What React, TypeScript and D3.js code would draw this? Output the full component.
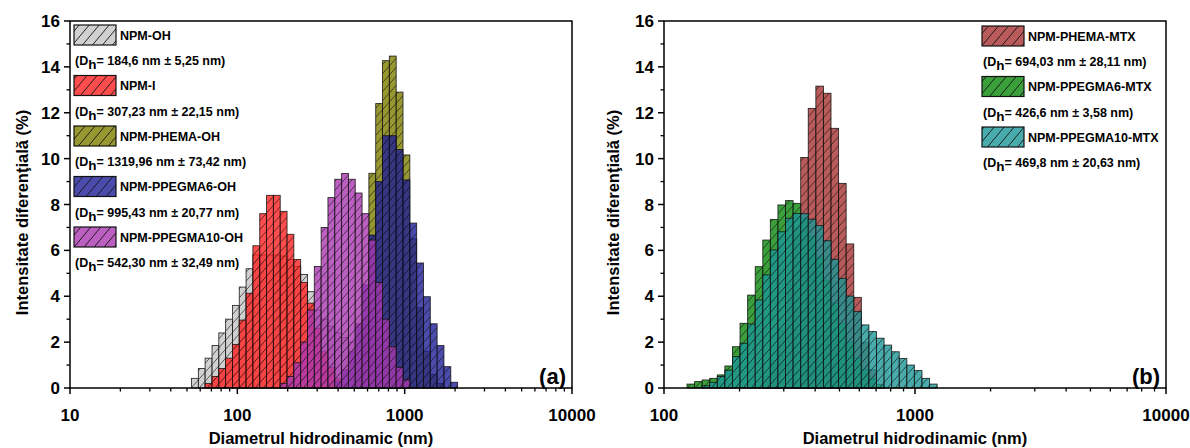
import React from 'react';
import * as d3 from 'd3';

// ---------- DATA ----------
// Left panel (a): lower bin edges (nm) of the size classes
const leftEdges = [53.2, 58.5, 64.2, 70.6, 77.5, 85.1, 93.5, 102.7, 112.8, 123.9, 136.1, 149.5, 164.2, 180.4, 198.2, 217.6, 239.0, 262.6, 288.4, 316.8, 348.0, 382.2, 419.9, 461.2, 506.6, 556.4, 611.2, 671.4, 737.5, 810.0, 889.8, 977.4, 1073.7, 1179.3, 1295.4, 1422.9, 1563.0, 1716.9, 1886.0, 2071.6];
const leftGray = [0.42, 0.85, 1.3, 1.85, 2.4, 3.0, 3.6, 4.4, 5.2, 5.8, 5.8, 5.8, 5.8, 5.75, 5.6, 5.3, 4.95, 4.2, 3.4, 3.0, 2.7, 2.4, 2.2, 2.0, 1.8, 1.5, 1.2, 0.9, 0.55, 0.25, 0, 0, 0, 0, 0, 0, 0, 0, 0];
const leftRed = [0, 0, 0.2, 0.5, 0.85, 1.3, 1.9, 2.96, 4.13, 6.2, 7.6, 8.4, 8.4, 7.7, 6.7, 5.6, 4.6, 3.7, 2.6, 1.6, 0.9, 0.4, 0.15, 0, 0, 0, 0, 0, 0, 0, 0, 0, 0, 0, 0, 0, 0, 0, 0];
const leftOlive = [0, 0, 0, 0, 0, 0, 0, 0, 0, 0, 0, 0, 0, 0, 0, 0, 0, 0, 0, 0, 0, 0, 0, 0, 0.6, 3.0, 9.36, 12.4, 14.27, 14.47, 12.9, 10.16, 6.5, 3.5, 1.6, 0.6, 0.2, 0, 0];
const leftBlue = [0, 0, 0, 0, 0, 0, 0, 0, 0, 0, 0, 0, 0, 0, 0, 0, 0, 0, 0, 0, 0, 0.3, 0.8, 1.6, 2.8, 4.5, 6.67, 9.0, 11.0, 11.0, 10.4, 9.07, 7.19, 5.45, 3.98, 2.8, 1.85, 0.93, 0.25];
const leftPurple = [0, 0, 0, 0, 0, 0, 0, 0, 0, 0, 0, 0, 0, 0.2, 0.5, 1.1, 2.0, 3.4, 5.3, 7.0, 8.3, 9.1, 9.35, 9.1, 8.5, 7.6, 6.45, 4.6, 3.0, 1.8, 0.9, 0.35, 0, 0, 0, 0, 0, 0, 0];
const leftNames = ['NPM-OH', 'NPM-I', 'NPM-PHEMA-OH', 'NPM-PPEGMA6-OH', 'NPM-PPEGMA10-OH'];
const leftDh = ['184,6 nm ± 5,25 nm', '307,23 nm ± 22,15 nm', '1319,96 nm ± 73,42 nm', '995,43 nm ± 20,77 nm', '542,30 nm ± 32,49 nm'];
const leftColors = ['#c4c4c4', '#ff2020', '#7e7e00', '#1e1e96', '#aa38b0'];
const leftXTicks = [10, 100, 1000, 10000];

// Right panel (b)
const rightEdges = [123.5, 132.4, 141.9, 152.1, 163.1, 174.8, 187.4, 200.9, 215.4, 230.9, 247.5, 265.3, 284.4, 304.9, 326.8, 350.4, 375.6, 402.7, 431.7, 462.8, 496.1, 531.8, 570.2, 611.2, 655.2, 702.4, 753.0, 807.2, 865.4, 927.7, 994.5, 1066.2, 1142.9, 1225.3];
const rightRed = [0, 0, 0, 0, 0, 0, 0, 0, 0, 0, 0.5, 1.2, 2.5, 4.5, 7.0, 10.05, 12.19, 13.16, 12.85, 11.32, 8.92, 6.28, 3.95, 2.0, 0.8, 0, 0, 0, 0, 0, 0, 0, 0];
const rightGreen = [0.17, 0.28, 0.35, 0.42, 0.57, 0.96, 1.8, 2.82, 4.05, 5.29, 6.45, 7.35, 7.98, 8.17, 8.05, 7.4, 6.6, 5.7, 4.7, 3.7, 2.8, 2.0, 1.3, 0.8, 0.4, 0.15, 0, 0, 0, 0, 0, 0, 0];
const rightCyan = [0, 0, 0.1, 0.25, 0.5, 0.78, 1.37, 1.95, 2.79, 3.84, 4.93, 6.02, 6.81, 7.4, 7.61, 7.6, 7.36, 7.08, 6.42, 5.61, 4.78, 4.01, 3.33, 2.75, 2.46, 2.17, 1.87, 1.58, 1.29, 1.0, 0.76, 0.42, 0.17];
const rightNames = ['NPM-PHEMA-MTX', 'NPM-PPEGMA6-MTX', 'NPM-PPEGMA10-MTX'];
const rightDh = ['694,03 nm ± 28,11 nm', ' 426,6 nm ± 3,58 nm', '469,8 nm ± 20,63 nm'];
const rightColors = ['#a83232', '#0a870a', '#1c9696'];
const rightXTicks = [100, 1000, 10000];

const yTicks = [0, 2, 4, 6, 8, 10, 12, 14, 16];
const yMinorTicks = [1, 3, 5, 7, 9, 11, 13, 15];

// ---------- LAYOUT ----------
const W = 1190;
const H = 448;
const TOP = 21;
const BOTTOM = 388;
const FONT = "'Liberation Sans', Arial, Helvetica, sans-serif";

type PanelProps = {
  left: number;
  right: number;
  domain: [number, number];
  xTicks: number[];
  edges: number[];
  series: number[][];
  colors: string[];
  names: string[];
  dh: string[];
  legendX: number;
  legendY0: number;
  legendStep: number;
  tag: string;
  yTitleX: number;
};

function Panel(p: PanelProps) {
  const x = d3.scaleLog().domain(p.domain).range([p.left, p.right]);
  const y = d3.scaleLinear().domain([0, 16]).range([BOTTOM, TOP]);
  const minor: number[] = [];
  for (let d = p.domain[0]; d < p.domain[1]; d *= 10) {
    for (let k = 2; k < 10; k++) minor.push(d * k);
  }
  const cx = (p.left + p.right) / 2;
  return (
    <g>
      {/* bars */}
      {p.series.map((vals, si) => (
        <g key={si}>
          {vals.map((v, i) => {
            if (!(v > 0)) return null;
            const x0 = x(p.edges[i]);
            const x1 = x(p.edges[i + 1]);
            const yt = y(v);
            const h = y(0) - yt;
            return (
              <g key={i}>
                <rect x={x0} y={yt} width={x1 - x0} height={h} fill={p.colors[si]} fillOpacity={0.8} />
                <rect x={x0} y={yt} width={x1 - x0} height={h} fill="url(#hatch)" stroke="#111" strokeWidth={0.9} strokeOpacity={0.85} />
              </g>
            );
          })}
        </g>
      ))}
      {/* frame */}
      <rect x={p.left} y={TOP} width={p.right - p.left} height={BOTTOM - TOP} fill="none" stroke="#000" strokeWidth={1.5} />
      {/* y ticks */}
      {yTicks.map((t) => (
        <g key={'y' + t}>
          <line x1={p.left - 6} x2={p.left} y1={y(t)} y2={y(t)} stroke="#000" strokeWidth={1.5} />
          <text x={p.left - 10} y={y(t)} dy="0.36em" textAnchor="end" fontFamily={FONT} fontWeight="bold" fontSize={17}>{t}</text>
        </g>
      ))}
      {yMinorTicks.map((t) => (
        <line key={'ym' + t} x1={p.left - 3.5} x2={p.left} y1={y(t)} y2={y(t)} stroke="#000" strokeWidth={1.3} />
      ))}
      {/* x ticks */}
      {p.xTicks.map((t) => (
        <g key={'x' + t}>
          <line x1={x(t)} x2={x(t)} y1={BOTTOM} y2={BOTTOM + 6} stroke="#000" strokeWidth={1.5} />
          <text x={x(t)} y={421} textAnchor="middle" fontFamily={FONT} fontWeight="bold" fontSize={17}>{t}</text>
        </g>
      ))}
      {minor.map((t, i) => (
        <line key={'xm' + i} x1={x(t)} x2={x(t)} y1={BOTTOM} y2={BOTTOM + 3.5} stroke="#000" strokeWidth={1.3} />
      ))}
      {/* axis titles */}
      <text x={cx} y={444} textAnchor="middle" fontFamily={FONT} fontWeight="bold" fontSize={16.5}>Diametrul hidrodinamic (nm)</text>
      <text transform={`translate(${p.yTitleX},${(TOP + BOTTOM) / 2 + 8}) rotate(-90)`} dy="0.35em" textAnchor="middle" fontFamily={FONT} fontWeight="bold" fontSize={16.5}>Intensitate diferenţială (%)</text>
      {/* panel tag */}
      <text x={p.right - 6} y={384} textAnchor="end" fontFamily={FONT} fontWeight="bold" fontSize={22}>{p.tag}</text>
      {/* legend */}
      {p.names.map((n, k) => {
        const ly = p.legendY0 + k * p.legendStep;
        return (
          <g key={'lg' + k}>
            <rect x={p.legendX} y={ly} width={42} height={20} fill={p.colors[k]} fillOpacity={0.8} />
            <rect x={p.legendX} y={ly} width={42} height={20} fill="url(#hatchL)" stroke="#111" strokeWidth={1.2} />
            <text x={p.legendX + 46} y={ly + 14.5} fontFamily={FONT} fontWeight="bold" fontSize={12.5}>{n}</text>
            <text x={p.legendX + 1} y={ly + 40} fontFamily={FONT} fontWeight="bold" fontSize={12.5}>
              (D<tspan dy={4} fontSize={13.5}>h</tspan><tspan dy={-4}>= {p.dh[k]})</tspan>
            </text>
          </g>
        );
      })}
    </g>
  );
}

export default function App() {
  return (
    <svg width={W} height={H} style={{ position: 'absolute', left: 0, top: 0, background: '#fff' }}>
      <defs>
        <pattern id="hatch" patternUnits="userSpaceOnUse" width={8} height={9}>
          <path d="M0,9 L8,0 M-1,1 L1,-1 M7,10 L9,8" stroke="#111" strokeWidth={0.75} strokeOpacity={0.85} />
        </pattern>
        <pattern id="hatchL" patternUnits="userSpaceOnUse" width={10} height={12}>
          <path d="M0,12 L10,0 M-1,1 L1,-1 M9,13 L11,11" stroke="#111" strokeWidth={0.9} />
        </pattern>
      </defs>
      <rect x={0} y={0} width={W} height={H} fill="#fff" />
      <Panel
        left={70}
        right={572}
        domain={[10, 10000]}
        xTicks={leftXTicks}
        edges={leftEdges}
        series={[leftGray, leftRed, leftOlive, leftBlue, leftPurple]}
        colors={leftColors}
        names={leftNames}
        dh={leftDh}
        legendX={74}
        legendY0={25}
        legendStep={50.5}
        tag="(a)"
        yTitleX={22}
      />
      <Panel
        left={664}
        right={1166}
        domain={[100, 10000]}
        xTicks={rightXTicks}
        edges={rightEdges}
        series={[rightRed, rightGreen, rightCyan]}
        colors={rightColors}
        names={rightNames}
        dh={rightDh}
        legendX={982}
        legendY0={26}
        legendStep={50.5}
        tag="(b)"
        yTitleX={613}
      />
    </svg>
  );
}
